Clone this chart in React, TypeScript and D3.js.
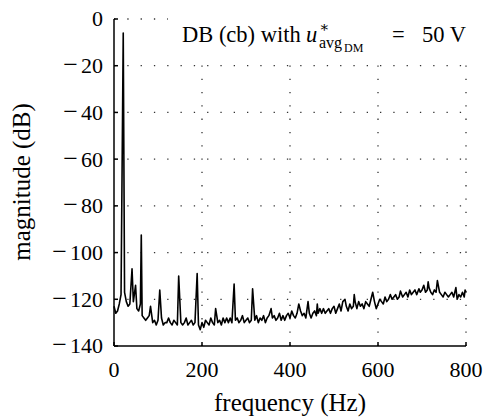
import React from "react";
import * as d3 from "d3";

// Noise floor, one value per 4 Hz bin (0 ... 800 Hz), in dB
const floorStepHz = 4;
const floorDb = [
  -123, -126, -125, -122, -118, -117, -117, -121, -123, -122,
  -118, -121, -119, -124, -125, -122, -127, -128, -129, -128,
  -127, -129, -130, -129, -131, -129, -130, -128, -131, -130,
  -130, -128, -130, -131, -129, -130, -131, -128, -130, -131,
  -130, -128, -131, -130, -129, -131, -130, -128, -131, -133,
  -130, -132, -129, -130, -131, -128, -130, -131, -128, -130,
  -129, -131, -128, -130, -128, -130, -128, -130, -131, -129,
  -128, -130, -129, -127, -130, -129, -128, -130, -129, -128,
  -129, -127, -130, -128, -129, -127, -130, -128, -127, -129,
  -128, -127, -129, -128, -126, -129, -127, -129, -127, -126,
  -128, -125, -127, -128, -126, -128, -125, -127, -126, -128,
  -124, -126, -128, -126, -125, -127, -126, -124, -126, -124,
  -126, -125, -124, -126, -124, -123, -126, -124, -122, -125,
  -121, -124, -123, -125, -122, -124, -123, -121, -124, -121,
  -123, -122, -124, -121, -122, -123, -120, -122, -121, -124,
  -122, -120, -121, -122, -119, -121, -120, -118, -120, -119,
  -118, -120, -119, -117, -119, -118, -117, -119, -116, -118,
  -117, -116, -118, -115, -117, -116, -114, -117, -116, -115,
  -117, -118, -116, -117, -119, -117, -118, -119, -117, -118,
  -119, -118, -117, -119, -118, -120, -118, -119, -117, -119,
  -117,
];

// Harmonic peaks
const peakHz = [21, 41, 49, 62, 83, 104, 147, 189, 231, 273, 315, 357, 420, 441, 462, 525, 546, 588, 651, 693, 714, 735, 777, 798];
const peakDb = [-6, -107, -114, -92.5, -123, -116, -110, -109, -124, -113.5, -115.5, -124, -122, -121, -122, -120, -118, -117, -116.5, -115.5, -112.5, -112, -115, -116];

const xTicks = [0, 200, 400, 600, 800];
const yTicks = [0, -20, -40, -60, -80, -100, -120, -140];

const FONT = "Liberation Serif, DejaVu Serif, serif";

export default function App() {
  const x = d3.scaleLinear().domain([0, 800]).range([114, 466]);
  const y = d3.scaleLinear().domain([-140, 0]).range([346, 19]);

  const pts: [number, number][] = [];
  floorDb.forEach((v, i) => {
    const f = i * floorStepHz;
    if (peakHz.some((p) => Math.abs(p - f) < 2)) return;
    pts.push([f, v]);
  });
  peakHz.forEach((f, i) => pts.push([f, peakDb[i]]));
  pts.sort((a, b) => a[0] - b[0]);

  const line = d3
    .line<[number, number]>()
    .x((d) => x(d[0]))
    .y((d) => y(d[1]));

  const [x0, x1] = x.range();
  const [yb, yt] = y.range();
  const tf = { fontFamily: FONT } as React.CSSProperties;

  return (
    <svg
      width={484}
      height={420}
      style={{ position: "absolute", left: 0, top: 0, background: "#fff", fontFamily: FONT }}
    >
      <rect x={0} y={0} width={484} height={420} fill="#fff" />
      {/* grid */}
      <g stroke="#333" strokeWidth={1.3} strokeDasharray="1.3 12" fill="none">
        {yTicks
          .filter((t) => t > -140)
          .map((t) => (
            <line key={"h" + t} x1={x0} x2={x1} y1={y(t)} y2={y(t)} />
          ))}
        {xTicks
          .filter((t) => t > 0)
          .map((t) => (
            <line key={"v" + t} x1={x(t)} x2={x(t)} y1={yb} y2={yt} />
          ))}
      </g>
      {/* title box */}
      <rect x={168} y={0} width={316} height={60} fill="#fff" />
      {/* data */}
      <path d={line(pts) ?? ""} fill="none" stroke="#000" strokeWidth={1.6} strokeLinejoin="round" />
      {/* axes */}
      <g stroke="#000" strokeWidth={1.5} fill="none">
        <line x1={x0} x2={x0} y1={yb} y2={yt} />
        <line x1={x0} x2={x1} y1={yb} y2={yb} />
        {yTicks.map((t) => (
          <line key={"yt" + t} x1={x0} x2={x0 + 4} y1={y(t)} y2={y(t)} />
        ))}
        {xTicks.map((t) => (
          <line key={"xt" + t} x1={x(t)} x2={x(t)} y1={yb} y2={yb - 4} />
        ))}
      </g>
      {/* tick labels */}
      <g fontSize={22} fill="#000" style={tf}>
        {yTicks.map((t) => (
          <text key={"yl" + t} x={103} y={y(t)} dy="0.34em" textAnchor="end" style={tf}>
            {t < 0 ? <tspan fontSize={26}>{"\u2212"}</tspan> : null}
            <tspan dx={t < 0 ? 3 : 0}>{Math.abs(t)}</tspan>
          </text>
        ))}
        {xTicks.map((t) => (
          <text key={"xl" + t} x={x(t)} y={377} textAnchor="middle" style={tf}>
            {t}
          </text>
        ))}
      </g>
      {/* axis labels */}
      <text x={290} y={411} fontSize={25} textAnchor="middle" style={tf}>
        frequency (Hz)
      </text>
      <text
        transform="translate(30,182) rotate(-90)"
        fontSize={25}
        textAnchor="middle"
        style={tf}
      >
        magnitude (dB)
      </text>
      {/* title */}
      <text x={182} y={42} fontSize={22.5} fill="#000" style={tf}>
        DB (cb) with
        <tspan x={306} y={42} fontStyle="italic">u</tspan>
        <tspan x={319} y={32} fontSize={15}>∗</tspan>
        <tspan x={319} y={48} fontSize={16}>avg</tspan>
        <tspan x={344} y={52} fontSize={12}>DM</tspan>
        <tspan x={392} y={42}>=</tspan>
        <tspan x={422} y={42}>50 V</tspan>
      </text>
    </svg>
  );
}
